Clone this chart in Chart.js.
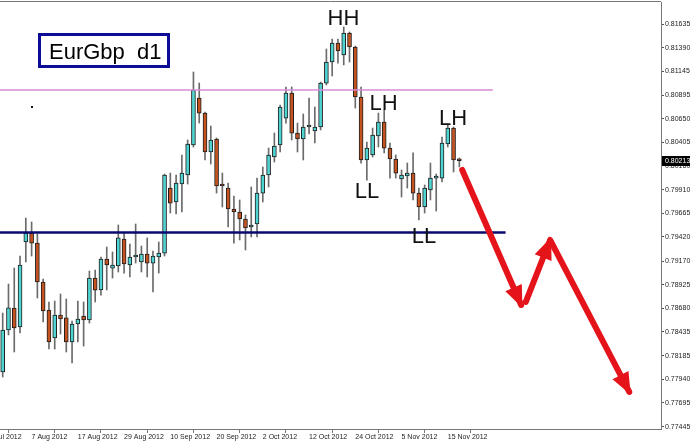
<!DOCTYPE html>
<html>
<head>
<meta charset="utf-8">
<script src="https://cdn.jsdelivr.net/npm/chart.js@4.4.0/dist/chart.umd.min.js"></script>
<style>
  html, body { margin: 0; padding: 0; background: #fff; }
</style>
</head>
<body>
<canvas id="chart" width="690" height="446"></canvas>
<script>
// daily EURGBP candles, 31 Jul 2012 .. 19 Nov 2012 (bar index 0..79)
var opens = [0.78016,0.78453,0.78681,0.78484,0.79368,0.79461,0.79357,0.78952,0.78661,0.78369,
  0.78609,0.78578,0.78328,0.78515,0.78598,0.78557,0.78993,0.78869,0.79191,0.79097,
  0.79118,0.79399,0.79129,0.79212,0.79160,0.79243,0.79149,0.79212,0.79253,0.79929,
  0.79784,0.79971,0.80065,0.80377,0.80865,0.80709,0.80304,0.80439,0.79971,0.79929,
  0.79711,0.79680,0.79607,0.79524,0.79555,0.79877,0.80065,0.80252,0.80377,0.80657,
  0.80917,0.80501,0.80439,0.80564,0.80522,0.80564,0.81021,0.81240,0.81437,0.81313,
  0.81541,0.81396,0.80876,0.80221,0.80273,0.80470,0.80616,0.80345,0.80231,0.80023,
  0.80054,0.80085,0.79877,0.79732,0.79909,0.80033,0.80033,0.80387,0.80553,0.80221];
var highs = [0.78629,0.78931,0.79097,0.79222,0.79617,0.79576,0.79451,0.78983,0.78744,0.78754,
  0.78827,0.78775,0.78546,0.78754,0.78744,0.79066,0.79076,0.79212,0.79316,0.79264,
  0.79545,0.79461,0.79347,0.79555,0.79326,0.79410,0.79274,0.79368,0.80075,0.80085,
  0.80065,0.80273,0.80429,0.81136,0.81021,0.80720,0.80574,0.80450,0.80085,0.79981,
  0.79846,0.79805,0.79649,0.79940,0.80033,0.80148,0.80345,0.80501,0.80793,0.80980,
  0.80980,0.80605,0.80699,0.80865,0.80772,0.81032,0.81375,0.81479,0.81479,0.81604,
  0.81552,0.81406,0.80980,0.80408,0.80553,0.80709,0.80741,0.80397,0.80273,0.80117,
  0.80189,0.80294,0.79929,0.79961,0.80189,0.80075,0.80460,0.80585,0.80564,0.80241];
var lows = [0.77964,0.78401,0.78224,0.78421,0.79160,0.79222,0.78785,0.78536,0.78255,0.78255,
  0.78411,0.78224,0.78109,0.78328,0.78286,0.78525,0.78744,0.78816,0.78869,0.78993,
  0.79056,0.79045,0.79004,0.79149,0.79056,0.79004,0.78848,0.79045,0.79222,0.79669,
  0.79659,0.79680,0.79971,0.80356,0.80605,0.80221,0.80179,0.79877,0.79732,0.79524,
  0.79357,0.79389,0.79285,0.79420,0.79420,0.79784,0.79940,0.80200,0.80304,0.80605,
  0.80429,0.80304,0.80221,0.80491,0.80398,0.80533,0.81001,0.81094,0.81229,0.81209,
  0.81240,0.80761,0.80189,0.80012,0.80252,0.80356,0.80294,0.80033,0.80033,0.79836,
  0.79929,0.79805,0.79597,0.79669,0.79805,0.79690,0.79992,0.80356,0.80096,0.80148];
var closes = [0.78453,0.78682,0.78473,0.79129,0.79461,0.79357,0.78952,0.78650,0.78328,0.78609,
  0.78567,0.78328,0.78515,0.78567,0.78557,0.78993,0.78868,0.79191,0.79129,0.79129,
  0.79410,0.79139,0.79212,0.79222,0.79243,0.79149,0.79222,0.79253,0.80065,0.79773,
  0.79981,0.80085,0.80387,0.80949,0.80709,0.80304,0.80429,0.79950,0.79950,0.79711,
  0.79680,0.79607,0.79514,0.79534,0.79877,0.80065,0.80273,0.80366,0.80772,0.80917,
  0.80501,0.80439,0.80564,0.80585,0.80564,0.81021,0.81240,0.81437,0.81354,0.81541,
  0.81396,0.80876,0.80221,0.80345,0.80481,0.80616,0.80345,0.80231,0.80085,0.80065,
  0.80085,0.79877,0.79732,0.79929,0.80033,0.80039,0.80398,0.80553,0.80221,0.80213];

var xTickIndex = [-3, 5, 13, 21, 29, 37, 45, 53, 61, 69, 77];
var xTickLabels = ['27 Jul 2012', '7 Aug 2012', '17 Aug 2012', '29 Aug 2012', '10 Sep 2012',
  '20 Sep 2012', '2 Oct 2012', '12 Oct 2012', '24 Oct 2012', '5 Nov 2012', '15 Nov 2012'];
var yTickLabels = ['0.81635', '0.81390', '0.81145', '0.80895', '0.80650', '0.80405', '0.80160',
  '0.79910', '0.79665', '0.79420', '0.79170', '0.78925', '0.78680', '0.78435', '0.78185',
  '0.77940', '0.77695', '0.77445'];

// horizontal levels
var pinkLevel = 0.80949, pinkEnd = 84.8;
var navyLevel = 0.79467, navyEnd = 87.0;

// hand drawn projection arrows (bar index, price)
var arrow1X = [79.5, 89.7];
var arrow1Y = [0.80117, 0.78713];
var arrow2X = [90.5, 94.7, 108.4];
var arrow2Y = [0.78745, 0.79389, 0.77808];

// wave labels (bar index, price at text baseline)
var waveText = ['HH', 'LH', 'LL', 'LH', 'LL'];
var waveX = [58.96, 65.88, 63.03, 77.91, 72.89];
var waveY = [0.81625, 0.80741, 0.79825, 0.80585, 0.79357];

var xMin = -0.467, xMax = 113.89;
var yMin = 0.77423, yMax = 0.81864;

var UP = '#4fd3d0', DOWN = '#c4531f';
var FONT = 'Liberation Sans';

var idx = opens.map(function (v, i) { return i; });
var bodies = idx.map(function (i) { return { x: i, y: [opens[i], closes[i]] }; });
var wicks = idx.map(function (i) { return { x: i, y: [lows[i], highs[i]] }; });
var bodyColors = idx.map(function (i) { return closes[i] >= opens[i] ? UP : DOWN; });

function pts(xs, ys) {
  return xs.map(function (x, i) { return { x: x, y: ys[i] }; });
}

var overlay = {
  id: 'overlay',
  beforeDraw: function (chart) {
    var ctx = chart.ctx;
    ctx.save();
    ctx.fillStyle = '#fff';
    ctx.fillRect(0, 0, chart.width, chart.height);
    ctx.restore();
  },
  afterDatasetsDraw: function (chart) {
    var ctx = chart.ctx, xs = chart.scales.x, ys = chart.scales.y, a = chart.chartArea;
    ctx.save();
    // arrow heads
    [[3, [1]], [4, [1, 2]]].forEach(function (d) {
      var p = chart.getDatasetMeta(d[0]).data;
      d[1].forEach(function (k) {
        var tip = p[k], from = p[k - 1];
        var ang = Math.atan2(tip.y - from.y, tip.x - from.x);
        var len = 19, half = 9;
        ctx.fillStyle = '#e5141b';
        ctx.beginPath();
        ctx.moveTo(tip.x + Math.cos(ang) * 3, tip.y + Math.sin(ang) * 3);
        ctx.lineTo(tip.x - Math.cos(ang) * len - Math.sin(ang) * half, tip.y - Math.sin(ang) * len + Math.cos(ang) * half);
        ctx.lineTo(tip.x - Math.cos(ang) * len + Math.sin(ang) * half, tip.y - Math.sin(ang) * len - Math.cos(ang) * half);
        ctx.closePath();
        ctx.fill();
      });
    });
    // wave labels
    ctx.fillStyle = '#111';
    ctx.font = '22px "' + FONT + '"';
    ctx.textAlign = 'center';
    ctx.textBaseline = 'alphabetic';
    waveText.forEach(function (t, i) {
      ctx.fillText(t, xs.getPixelForValue(waveX[i]), ys.getPixelForValue(waveY[i]));
    });
    // stray dot
    ctx.fillRect(Math.round(xs.getPixelForValue(5.07)) - 1, Math.round(ys.getPixelForValue(0.80772)) - 1, 2, 2);
    // title box
    var bx = a.left + 39.5, by = a.top + 32.5;
    ctx.fillStyle = '#fff';
    ctx.fillRect(bx, by, 129, 32);
    ctx.strokeStyle = '#0c0c96';
    ctx.lineWidth = 3;
    ctx.strokeRect(bx, by, 129, 32);
    ctx.fillStyle = '#000';
    ctx.textAlign = 'left';
    ctx.fillText('EurGbp  d1', bx + 9.5, by + 24.5);
    ctx.restore();
  },
  afterDraw: function (chart) {
    var ctx = chart.ctx, ys = chart.scales.y, a = chart.chartArea;
    ctx.save();
    ctx.strokeStyle = '#777';
    ctx.lineWidth = 1;
    ctx.beginPath();
    ctx.moveTo(0, a.top - 0.5);
    ctx.lineTo(a.right, a.top - 0.5);
    ctx.stroke();
    // current price marker
    var last = closes[closes.length - 1];
    var py = Math.round(ys.getPixelForValue(last));
    ctx.fillStyle = '#000';
    ctx.fillRect(a.right + 1, py - 5, chart.width - a.right - 1, 10);
    ctx.fillStyle = '#fff';
    ctx.font = '7px "' + FONT + '"';
    ctx.textBaseline = 'middle';
    ctx.fillText(last.toFixed(5), a.right + 4, py + 0.5);
    ctx.restore();
  }
};

new Chart(document.getElementById('chart').getContext('2d'), {
  type: 'bar',
  data: {
    datasets: [{
      type: 'bar',
      label: 'Body',
      data: bodies,
      backgroundColor: bodyColors,
      borderColor: '#1e1e1e',
      borderWidth: 1,
      borderSkipped: false,
      barThickness: 4,
      minBarLength: 2,
      grouped: false,
      order: 4
    }, {
      type: 'bar',
      label: 'Wick',
      data: wicks,
      backgroundColor: '#6b6b6b',
      barThickness: 1,
      grouped: false,
      order: 5
    }, {
      type: 'line',
      label: 'Resistance',
      data: [{ x: xMin, y: pinkLevel }, { x: pinkEnd, y: pinkLevel }],
      borderColor: '#d98bd9',
      borderWidth: 1.5,
      pointRadius: 0,
      order: 3
    }, {
      type: 'line',
      label: 'Arrow 1',
      data: pts(arrow1X, arrow1Y),
      borderColor: '#e5141b',
      borderWidth: 6,
      borderCapStyle: 'round',
      pointRadius: 0,
      order: 1
    }, {
      type: 'line',
      label: 'Arrow 2',
      data: pts(arrow2X, arrow2Y),
      borderColor: '#e5141b',
      borderWidth: 6,
      borderCapStyle: 'round',
      borderJoinStyle: 'round',
      pointRadius: 0,
      order: 1
    }, {
      type: 'line',
      label: 'Support',
      data: [{ x: xMin, y: navyLevel }, { x: navyEnd, y: navyLevel }],
      borderColor: '#0a0a6e',
      borderWidth: 2.5,
      pointRadius: 0,
      order: 2
    }]
  },
  options: {
    responsive: false,
    animation: false,
    layout: { padding: { top: 2, left: 0, right: 0, bottom: 0 } },
    plugins: { legend: { display: false }, tooltip: { enabled: false } },
    scales: {
      x: {
        type: 'linear',
        min: xMin,
        max: xMax,
        offset: false,
        grid: { drawOnChartArea: false, tickLength: 4, color: '#777' },
        border: { color: '#777' },
        ticks: {
          autoSkip: false,
          maxRotation: 0,
          align: 'start',
          padding: 0,
          color: '#222',
          font: { family: FONT, size: 7 },
          callback: function (v, i) { return xTickLabels[i]; }
        },
        afterBuildTicks: function (s) {
          s.ticks = xTickIndex.map(function (v) { return { value: v }; });
        },
        afterFit: function (s) {
          s.height = 17;
          s.paddingLeft = 0;
          s.paddingRight = 0;
        }
      },
      y: {
        type: 'linear',
        position: 'right',
        min: yMin,
        max: yMax,
        grid: { drawOnChartArea: false, tickLength: 3, color: '#555' },
        border: { color: '#777' },
        ticks: {
          padding: 1,
          color: '#222',
          font: { family: FONT, size: 7 },
          callback: function (v, i) { return yTickLabels[i]; }
        },
        afterBuildTicks: function (s) {
          s.ticks = yTickLabels.map(function (l) { return { value: parseFloat(l) }; });
        },
        afterFit: function (s) {
          s.width = 29;
          s.paddingTop = 0;
          s.paddingBottom = 0;
        }
      }
    }
  },
  plugins: [overlay]
});
</script>
</body>
</html>
